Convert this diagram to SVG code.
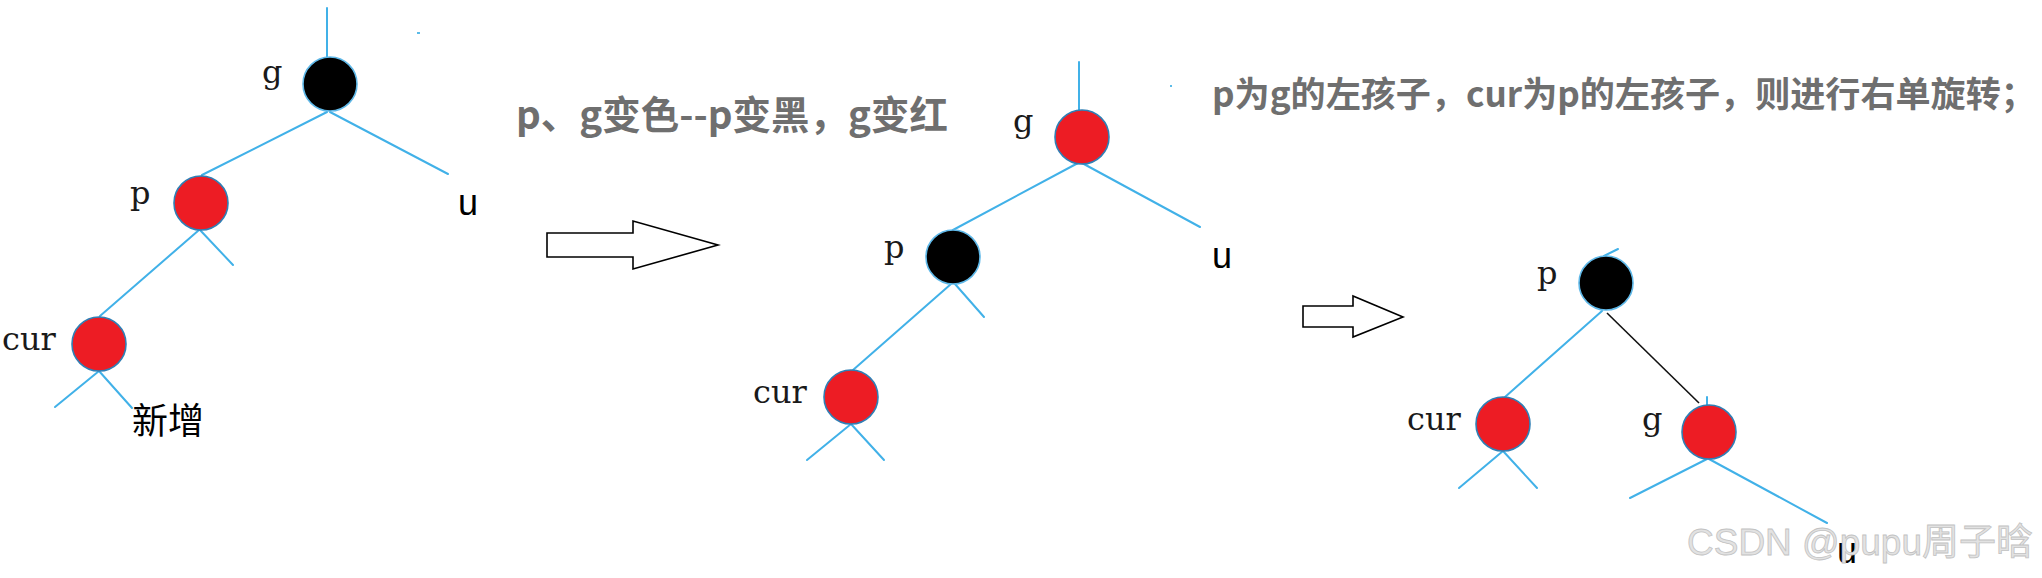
<svg xmlns="http://www.w3.org/2000/svg" width="2042" height="578" viewBox="0 0 2042 578">
<style>
.edge{stroke:#41b1e8;stroke-width:2;fill:none;stroke-linecap:round}
.black-edge{stroke:#111;stroke-width:1.6;fill:none}
.red{fill:#ed1c24;stroke:#2f7fb5;stroke-width:1.6}
.blk{fill:#000;stroke:#5fb8e8;stroke-width:1.6}
.lbl{font-family:"DejaVu Serif","Liberation Serif",serif;font-size:32px;fill:#1a1a1a}
.u{font-family:"Liberation Sans",Arial,sans-serif;font-size:36px;fill:#000}
.note{font-family:"Noto Sans CJK SC",sans-serif;font-weight:700;fill:#6f6f6f}
.cn{font-family:"Noto Sans CJK SC",sans-serif;font-size:36px;fill:#000}
.arrow{fill:#fff;stroke:#000;stroke-width:1.6;stroke-linejoin:miter}
.wm{font-family:"Liberation Sans","Noto Sans CJK SC",sans-serif;font-size:37px;fill:#e2e2e2;stroke:#c2c2c2;stroke-width:0.8}
</style>
<rect width="2042" height="578" fill="#fff"/>

<g id="connectors">
  <!-- tree 1 -->
  <line class="edge" x1="327" y1="8" x2="327" y2="58"/>
  <line class="edge" x1="327" y1="112" x2="202" y2="175"/>
  <line class="edge" x1="330" y1="112" x2="448" y2="174"/>
  <line class="edge" x1="199" y1="230" x2="100" y2="316"/>
  <line class="edge" x1="200" y1="230" x2="233" y2="265"/>
  <line class="edge" x1="99" y1="371" x2="55" y2="407"/>
  <line class="edge" x1="99" y1="371" x2="132" y2="408"/>
  <!-- tree 2 -->
  <line class="edge" x1="1079" y1="62" x2="1079" y2="112"/>
  <line class="edge" x1="1078" y1="163" x2="953" y2="230"/>
  <line class="edge" x1="1082" y1="163" x2="1200" y2="227"/>
  <line class="edge" x1="951" y1="284" x2="853" y2="370"/>
  <line class="edge" x1="955" y1="284" x2="984" y2="317"/>
  <line class="edge" x1="851" y1="424" x2="807" y2="460"/>
  <line class="edge" x1="851" y1="424" x2="884" y2="460"/>
  <!-- tree 3 -->
  <line class="edge" x1="1604" y1="256" x2="1618" y2="249"/>
  <line class="edge" x1="1602" y1="311" x2="1505" y2="397"/>
  <line class="black-edge" x1="1607" y1="313" x2="1699" y2="403"/>
  <line class="edge" x1="1707" y1="397" x2="1707" y2="408"/>
  <line class="edge" x1="1503" y1="451" x2="1459" y2="488"/>
  <line class="edge" x1="1503" y1="451" x2="1537" y2="488"/>
  <line class="edge" x1="1707" y1="459" x2="1630" y2="498"/>
  <line class="edge" x1="1709" y1="459" x2="1827" y2="523"/>
</g>

<!-- tree 1 nodes -->
<g id="t1-g"><circle class="blk" cx="330" cy="84" r="27"/><text class="lbl" x="262" y="83">g</text></g>
<g id="t1-p"><circle class="red" cx="201" cy="203" r="27"/><text class="lbl" x="130" y="204">p</text></g>
<g id="t1-u"><text class="u" x="458" y="215">u</text></g>
<g id="t1-cur"><circle class="red" cx="99" cy="344" r="27"/><text class="lbl" x="2" y="350">cur</text></g>
<g id="t1-new"><text class="cn" x="132" y="434">新增</text></g>

<!-- tree 2 nodes -->
<g id="t2-g"><circle class="red" cx="1082" cy="137" r="27"/><text class="lbl" x="1013" y="132">g</text></g>
<g id="t2-p"><circle class="blk" cx="953" cy="257" r="27"/><text class="lbl" x="884" y="258">p</text></g>
<g id="t2-u"><text class="u" x="1212" y="268">u</text></g>
<g id="t2-cur"><circle class="red" cx="851" cy="397" r="27"/><text class="lbl" x="753" y="403">cur</text></g>

<!-- tree 3 nodes -->
<g id="t3-p"><circle class="blk" cx="1606" cy="283" r="27"/><text class="lbl" x="1537" y="284">p</text></g>
<g id="t3-cur"><circle class="red" cx="1503" cy="424" r="27"/><text class="lbl" x="1407" y="430">cur</text></g>
<g id="t3-g"><circle class="red" cx="1709" cy="432" r="27"/><text class="lbl" x="1642" y="430">g</text></g>
<g id="t3-u"><text class="u" x="1837" y="563">u</text></g>

<!-- transition arrows -->
<g id="arrow1"><path class="arrow" d="M547 233 H633 V221 L718 245 L633 269 V257 H547 Z"/></g>
<g id="arrow2"><path class="arrow" d="M1303 306 H1353 V296 L1403 317 L1353 337 V327 H1303 Z"/></g>

<!-- notes -->
<g id="note1"><text class="note" x="516" y="129" font-size="38.5">p、g变色--p变黑，g变红</text></g>
<g id="note2"><text class="note" x="1212" y="107" font-size="35.1">p为g的左孩子，cur为p的左孩子，则进行右单旋转；</text></g>

<!-- stray dots -->
<rect x="417" y="32" width="3" height="2" fill="#5bbbe8"/>
<rect x="1170" y="85" width="2" height="2" fill="#5bbbe8"/>

<g id="watermark"><text class="wm" x="1687" y="555">CSDN @pupu周子晗</text></g>
</svg>
